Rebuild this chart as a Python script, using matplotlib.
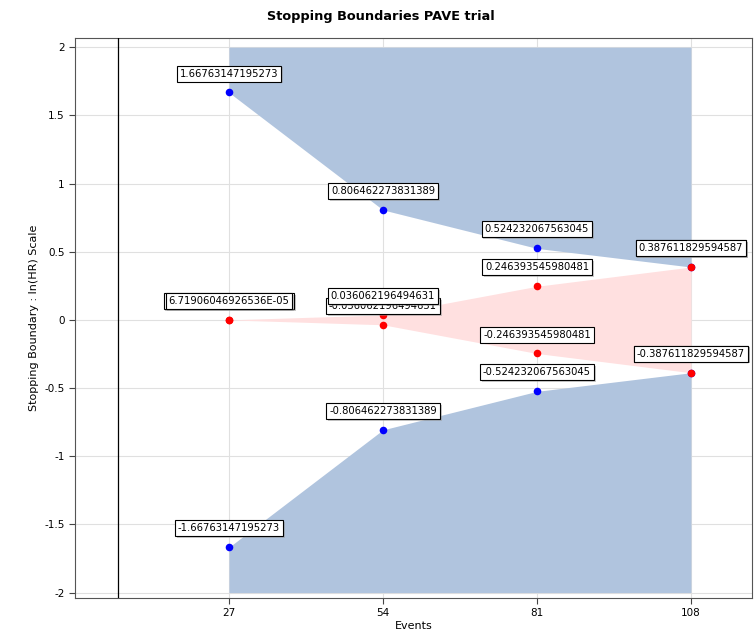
import matplotlib
matplotlib.use('Agg')
import matplotlib.pyplot as plt
import matplotlib.patheffects as pe

## data
events = [27, 54, 81, 108]
upper_eff = [1.66763147195273, 0.806462273831389, 0.524232067563045, 0.387611829594587]
lower_eff = [-1.66763147195273, -0.806462273831389, -0.524232067563045, -0.387611829594587]
upper_fut = [6.71906046926536e-05, 0.036062196494631, 0.246393545980481, 0.387611829594587]
lower_fut = [-6.71906046926536e-05, -0.036062196494631, -0.246393545980481, -0.387611829594587]
upper_fut_labels = ['6.71906046926536E-05', '0.036062196494631', '0.246393545980481', '0.387611829594587']
lower_fut_labels = ['-6.71906046926536E-05', '-0.036062196494631', '-0.246393545980481', '-0.387611829594587']
eff_labels_up = ['1.66763147195273', '0.806462273831389', '0.524232067563045', '0.387611829594587']
eff_labels_lo = ['-1.66763147195273', '-0.806462273831389', '-0.524232067563045', '-0.387611829594587']
yticks = [-2, -1.5, -1, -0.5, 0, 0.5, 1, 1.5, 2]
ytick_labels = ['-2', '-1.5', '-1', '-0.5', '0', '0.5', '1', '1.5', '2']

fig = plt.figure(figsize=(7.55, 6.36), dpi=100)
ax = fig.add_axes([0.0993, 0.0597, 0.8967, 0.8803])

## shaded regions
ax.fill_between(events, upper_eff, 2, color='#b0c4de', lw=0, zorder=1)
ax.fill_between(events, lower_eff, -2, color='#b0c4de', lw=0, zorder=1)
ax.fill_between(events, lower_fut, upper_fut, color='#ffe0e0', lw=0, zorder=1)

## points
ax.scatter(events, upper_eff, s=30, color='#0000ff', zorder=4, lw=0)
ax.scatter(events, lower_eff, s=30, color='#0000ff', zorder=4, lw=0)
ax.scatter(events, lower_fut, s=30, color='#ff0000', zorder=4, lw=0)
ax.scatter(events, upper_fut, s=30, color='#ff0000', zorder=4, lw=0)

def label(x, y, txt, z):
    t = ax.annotate(txt, (x, y), xytext=(0, 10), textcoords='offset points',
                    ha='center', va='bottom', fontsize=7.2, zorder=z,
                    bbox=dict(boxstyle='square,pad=0.3', fc='white', ec='black', lw=0.8))
    t.get_bbox_patch().set_path_effects([pe.SimplePatchShadow(offset=(1.2, -1.2), shadow_rgbFace='#999999', alpha=0.5), pe.Normal()])

for i in range(len(events)):
    label(events[i], upper_eff[i], eff_labels_up[i], 5)
    label(events[i], lower_eff[i], eff_labels_lo[i], 5)
    label(events[i], lower_fut[i], lower_fut_labels[i], 5)
    label(events[i], upper_fut[i], upper_fut_labels[i], 6)

ax.axvline(7.5, color='black', lw=0.9, zorder=3)

ax.set_xlim(0, 118.7)
ax.set_ylim(-2.04, 2.066)
ax.set_xticks(events)
ax.set_xticklabels([str(e) for e in events])
ax.set_yticks(yticks)
ax.set_yticklabels(ytick_labels)
ax.tick_params(labelsize=7.5, length=4, color='#444444')
ax.grid(True, color='#e0e0e0', lw=0.8, zorder=0)
ax.set_axisbelow(True)
for s in ax.spines.values():
    s.set_color('#555555')

ax.set_xlabel('Events', fontsize=8, labelpad=2)
ax.set_ylabel('Stopping Boundary : ln(HR) Scale', fontsize=8, labelpad=4)
fig.suptitle('Stopping Boundaries PAVE trial', fontsize=9.3, fontweight='bold', x=0.505, y=0.985, va='top')

fig.savefig('out.png', dpi=100)
